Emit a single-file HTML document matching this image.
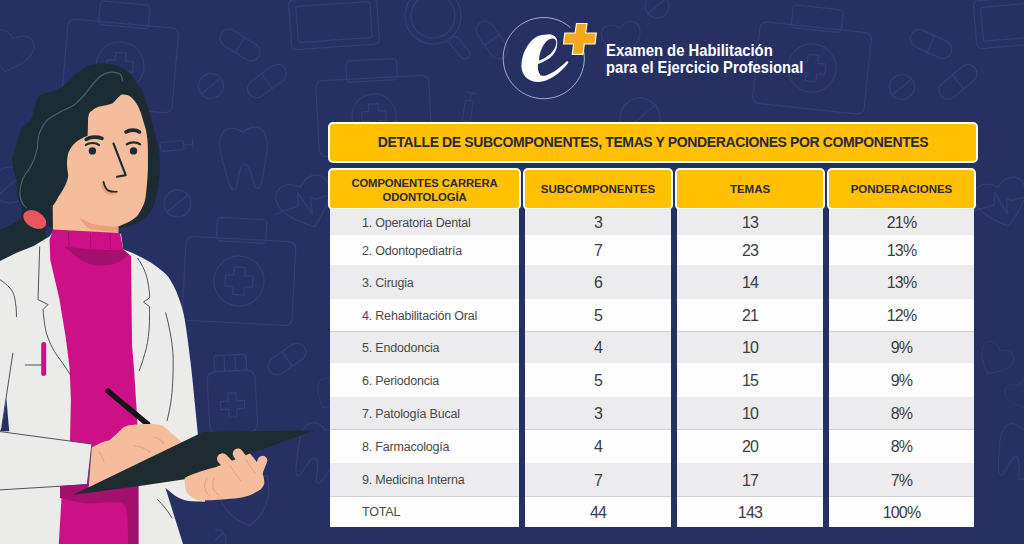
<!DOCTYPE html>
<html><head><meta charset="utf-8">
<style>
*{margin:0;padding:0;box-sizing:border-box}
html,body{width:1024px;height:544px;overflow:hidden;background:#273063;font-family:"Liberation Sans",sans-serif}
.abs{position:absolute}
.ybox{position:absolute;background:#ffc102;border:2px solid #fffdf4;border-radius:5px;color:#2c2a3c;font-weight:bold;text-align:center;white-space:nowrap}
.num{position:absolute;color:#3d3d3d;font-size:16px;text-align:center;white-space:nowrap;letter-spacing:-0.8px}
.lbl{position:absolute;color:#4a4a4a;font-size:12.5px;white-space:nowrap;left:362px;letter-spacing:-0.2px}
.hd{position:absolute;color:#2c2a3c;font-weight:bold;white-space:nowrap;text-align:center}
</style></head><body>
<svg class="abs" style="left:0;top:0" width="1024" height="544" viewBox="0 0 1024 544"><g fill="none" stroke="#343d74" stroke-width="1.25" stroke-linejoin="round" stroke-linecap="round"><g transform="translate(10,52) rotate(15) scale(0.85)"><path d="M0,24 C-10,16 -26,4 -26,-10 C-26,-22 -12,-28 0,-16 C12,-28 26,-22 26,-10 C26,4 10,16 0,24 Z"/></g><g transform="translate(120,66) rotate(5)"><rect x="-24.975" y="-63.3" width="49.95" height="23.8" rx="4"/><rect x="-55.5" y="-42.5" width="111" height="85" rx="7"/><circle r="24"/><path d="M-5.28,-13.200000000000001 H5.28 V-5.28 H13.200000000000001 V5.28 H5.28 V13.200000000000001 H-5.28 V5.28 H-13.200000000000001 V-5.28 H-5.28 Z"/></g><g transform="translate(240,45) rotate(32)"><rect x="-22.0" y="-9.0" width="44" height="18" rx="9.0"/><line x1="0" y1="-9.0" x2="0" y2="9.0"/></g><g transform="translate(267,81) rotate(-36)"><rect x="-22.0" y="-9.0" width="44" height="18" rx="9.0"/><line x1="0" y1="-9.0" x2="0" y2="9.0"/></g><g transform="translate(211,86) rotate(-40)"><circle r="12.5"/><line x1="-12.5" y1="0" x2="12.5" y2="0"/></g><g transform="translate(334,22) rotate(-4)"><rect x="-44.0" y="-25.0" width="88" height="50" rx="5"/><rect x="-37.0" y="-18.0" width="74" height="36" rx="2"/></g><g transform="translate(433,16) rotate(-40)"><circle r="28"/><circle r="22"/><rect x="-5" y="28" width="10" height="26.599999999999998" rx="5"/></g><g transform="translate(374,116) rotate(-3)"><rect x="-25.425" y="-56.28" width="50.85" height="21.28" rx="4"/><rect x="-56.5" y="-38.0" width="113" height="76" rx="7"/><circle r="22"/><path d="M-4.84,-12.100000000000001 H4.84 V-4.84 H12.100000000000001 V4.84 H4.84 V12.100000000000001 H-4.84 V4.84 H-12.100000000000001 V-4.84 H-4.84 Z"/></g><g transform="translate(468,110) rotate(-80) scale(0.8)"><rect x="-14" y="-5" width="26" height="10" rx="2"/><line x1="12" y1="0" x2="22" y2="0"/><line x1="22" y1="-7" x2="22" y2="7"/><line x1="-14" y1="0" x2="-22" y2="0"/></g><g transform="translate(492,40) rotate(55)"><rect x="-21.0" y="-9.0" width="42" height="18" rx="9.0"/><line x1="0" y1="-9.0" x2="0" y2="9.0"/></g><g transform="translate(657,6) rotate(-40)"><circle r="12"/><line x1="-12" y1="0" x2="12" y2="0"/></g><g transform="translate(622,40) rotate(-10) scale(0.75)"><path d="M0,24 C-10,16 -26,4 -26,-10 C-26,-22 -12,-28 0,-16 C12,-28 26,-22 26,-10 C26,4 10,16 0,24 Z"/></g><g transform="translate(812,68) rotate(6)"><rect x="-25.2" y="-60.96" width="50.4" height="22.96" rx="4"/><rect x="-56.0" y="-41.0" width="112" height="82" rx="7"/><circle r="24"/><path d="M-5.28,-13.200000000000001 H5.28 V-5.28 H13.200000000000001 V5.28 H5.28 V13.200000000000001 H-5.28 V5.28 H-13.200000000000001 V-5.28 H-5.28 Z"/></g><g transform="translate(931,44) rotate(25)"><rect x="-22.0" y="-9.0" width="44" height="18" rx="9.0"/><line x1="0" y1="-9.0" x2="0" y2="9.0"/></g><g transform="translate(958,82) rotate(-40)"><rect x="-22.0" y="-9.0" width="44" height="18" rx="9.0"/><line x1="0" y1="-9.0" x2="0" y2="9.0"/></g><g transform="translate(902,87) rotate(-40)"><circle r="12.5"/><line x1="-12.5" y1="0" x2="12.5" y2="0"/></g><g transform="translate(1010,22) rotate(-5)"><rect x="-35.0" y="-24.0" width="70" height="48" rx="5"/><rect x="-28.0" y="-17.0" width="56" height="34" rx="2"/></g><g transform="translate(640,118) rotate(-40)"><circle r="20"/><line x1="-20" y1="0" x2="20" y2="0"/></g><g transform="translate(244,156) rotate(-3) scale(1.05)"><path d="M-20,-22 C-14,-30 -6,-27 0,-23 C6,-27 14,-30 20,-22 C26,-12 20,5 17,20 C15,30 12,34 9,30 C6,20 5,8 0,8 C-5,8 -6,20 -9,30 C-12,34 -15,30 -17,20 C-20,5 -26,-12 -20,-22 Z"/></g><g transform="translate(173,146) rotate(-5) scale(0.9)"><rect x="-14" y="-5" width="26" height="10" rx="2"/><line x1="12" y1="0" x2="22" y2="0"/><line x1="22" y1="-7" x2="22" y2="7"/><line x1="-14" y1="0" x2="-22" y2="0"/></g><g transform="translate(177.5,203.5) rotate(-40)"><circle r="13.5"/><line x1="-13.5" y1="0" x2="13.5" y2="0"/></g><g transform="translate(306,203) rotate(-20) scale(1.05)"><path d="M0,24 C-10,16 -26,4 -26,-10 C-26,-22 -12,-28 0,-16 C12,-28 26,-22 26,-10 C26,4 10,16 0,24 Z"/><path d="M-32,0 H-8 L-4,-12 L2,12 L6,-4 L10,0 H30"/></g><g transform="translate(239,281) rotate(3)"><rect x="-24.75" y="-62.52000000000001" width="49.5" height="23.520000000000003" rx="4"/><rect x="-55.0" y="-42.0" width="110" height="84" rx="7"/><circle r="25"/><path d="M-5.5,-13.750000000000002 H5.5 V-5.5 H13.750000000000002 V5.5 H5.5 V13.750000000000002 H-5.5 V5.5 H-13.750000000000002 V-5.5 H-5.5 Z"/></g><g transform="translate(232,395) rotate(-3) scale(1.0)"><rect x="-16" y="-40" width="32" height="16" rx="3"/><line x1="-6" y1="-40" x2="-6" y2="-24"/><line x1="5" y1="-40" x2="5" y2="-24"/><rect x="-24" y="-24" width="48" height="62" rx="8"/><path d="M-4,-2 H4 V6 H12 V14 H4 V22 H-4 V14 H-12 V6 H-4 Z"/></g><g transform="translate(287,359) rotate(-35)"><rect x="-21.0" y="-9.0" width="42" height="18" rx="9.0"/><line x1="0" y1="-9.0" x2="0" y2="9.0"/></g><g transform="translate(245,498) rotate(-10) scale(1.0)"><path d="M0,-26 C8,-20 18,-18 26,-18 C26,6 16,20 0,28 C-16,20 -26,6 -26,-18 C-18,-18 -8,-20 0,-26 Z"/></g><g transform="translate(318,451) rotate(20) scale(0.95)"><path d="M-20,-22 C-14,-30 -6,-27 0,-23 C6,-27 14,-30 20,-22 C26,-12 20,5 17,20 C15,30 12,34 9,30 C6,20 5,8 0,8 C-5,8 -6,20 -9,30 C-12,34 -15,30 -17,20 C-20,5 -26,-12 -20,-22 Z"/></g><g transform="translate(330,395) rotate(30) scale(0.6)"><path d="M0,24 C-10,16 -26,4 -26,-10 C-26,-22 -12,-28 0,-16 C12,-28 26,-22 26,-10 C26,4 10,16 0,24 Z"/></g><g transform="translate(215,540) rotate(-40)"><circle r="11"/><line x1="-11" y1="0" x2="11" y2="0"/></g><g transform="translate(1002,203) rotate(-15) scale(1.0)"><path d="M0,24 C-10,16 -26,4 -26,-10 C-26,-22 -12,-28 0,-16 C12,-28 26,-22 26,-10 C26,4 10,16 0,24 Z"/><path d="M-32,0 H-8 L-4,-12 L2,12 L6,-4 L10,0 H30"/></g><g transform="translate(995,360) rotate(30) scale(0.65)"><path d="M0,24 C-10,16 -26,4 -26,-10 C-26,-22 -12,-28 0,-16 C12,-28 26,-22 26,-10 C26,4 10,16 0,24 Z"/></g><g transform="translate(1022,395) rotate(-20) scale(0.6)"><path d="M0,24 C-10,16 -26,4 -26,-10 C-26,-22 -12,-28 0,-16 C12,-28 26,-22 26,-10 C26,4 10,16 0,24 Z"/></g><g transform="translate(1018,450) rotate(15) scale(0.9)"><path d="M-20,-22 C-14,-30 -6,-27 0,-23 C6,-27 14,-30 20,-22 C26,-12 20,5 17,20 C15,30 12,34 9,30 C6,20 5,8 0,8 C-5,8 -6,20 -9,30 C-12,34 -15,30 -17,20 C-20,5 -26,-12 -20,-22 Z"/></g><g transform="translate(10,185) rotate(-40)"><circle r="18"/><line x1="-18" y1="0" x2="18" y2="0"/></g></g></svg>
<svg class="abs" style="left:0;top:0" width="1024" height="544" viewBox="0 0 1024 544">
<!-- hair back (incl ponytail) -->
<path fill="#1c2c34" d="M96,63.8 C105,63 118,64 125.6,69.7 C131,74 134,78 135.9,81.5 C140,87 142,90 143.2,93.2 C146,100 147,104 147.6,106.5 C150,115 152.5,123 154.3,130 C156,137 157.5,143 158.8,149.3 C159.8,155 160.2,161 160.1,166 C160,172 159.6,177 158.8,181.5 C158,188 157,195 155.6,200 C154.5,204 153,207 152,209 C150,213 147.5,216 145.3,218 C142,221 138.5,222.5 135.4,223.5 C131,225.5 127,227 124.3,227.5 L118.8,228 L60,234 L53,231.3 C45,240 40,243 33.1,246.2 L16.6,252.8 L0,261 L0,229.7 L11.6,224.7 L21.5,218 L21.5,208.1 L17.4,196.6 L16.6,180 L13.2,170 L12.1,158.7 L16.5,143.2 L22,127.8 C28,122 31,120 33.1,116.8 L35.3,102.4 C38,97 40,95 44.1,93.6 L57.4,90.3 C65,85 70,80 72.8,77 C80,70 86,66 96,63.8 Z"/>
<!-- face + neck -->
<path fill="#f5bd9b" d="M88,120 C88.5,114 89.5,111.5 91.8,110.9 C96,107 100,106 103.5,105.7 C108,105 110,104 112.4,103.5 C116,100 119,96 121.2,94.7 C125,94 129,95 131.5,97.6 C135,101 137,104 138.8,108 C141,112 143,120 146,130 C147.3,137 147.9,143 147.9,149.3 C148,156 148,162 147.9,168.6 C147.7,176 147.2,182 146.6,188 C146,194 145.5,199 144.2,203.2 C142,208 140,212 137.6,215.4 C134,219 130,221.5 126.5,223.1 C123,224.5 120.5,225.8 118.3,226.4 L118.3,236 L53,236 L52.7,206 C55,203 57,200 58.2,197 C61,193 63,190 64.9,186 C67,182 68,178 68.2,175 C67.5,170 67,167 67,164 C67,160 67.5,156 68.2,153 C70,149 72,146 73.7,144.3 C78,140 84,137 87.5,136 C88,130 88,124 88,120 Z"/>
<!-- chin shadow -->
<path fill="#eaa17b" d="M79,217.2 C84,220 89,223 93.4,224.2 C102,226 110,226.5 118.3,226.6 L118.3,232 C108,231 97,230 89.5,228.9 C85,226 82,222 79,217.2 Z"/>
<!-- hair highlight line -->
<path fill="none" stroke="#41646c" stroke-width="1.2" d="M122.6,81.5 C122,76 120,73.5 118.2,73.4 C114,72 110,72 108,72.6 C103,74 99,77 96.2,80 C92,85 89,89 85.9,93.2 C81,99 78,102 74,105 C69,108 64,110 59.4,112.4 C53,116 49,118 46.2,121.2 C42,127 40,131 38.8,135 C37,143 37.5,147 37.5,147.6 C35,158 32,165 28.7,169.7 C23,176 20,185 19.9,193.2 C20,200 23,205 26.5,208.1"/>
<!-- hair tie -->
<path fill="#273063" d="M44.5,223.5 L53,228.5 L53,237 L46,237 Z"/>
<ellipse cx="34.8" cy="219.5" rx="12.3" ry="8.2" transform="rotate(30 34.8 219.5)" fill="#e9565e"/>
<!-- eyes -->
<path fill="none" stroke="#1c2c34" stroke-width="3.6" stroke-linecap="round" d="M86.2,139.4 C90,136.8 97,136.3 102,138.4 M126,131.9 C129.5,129.6 136,129.5 139.5,131.9"/>
<path fill="none" stroke="#1c2c34" stroke-width="2.2" stroke-linecap="round" d="M85.8,145 C89,142.3 96,142.3 99,145 M126.8,144.3 C130,141.6 137,141.6 140.2,144.3"/>
<circle cx="92.4" cy="150.9" r="3.7" fill="#1c2c34"/>
<circle cx="133.5" cy="150.9" r="3.7" fill="#1c2c34"/>
<!-- nose -->
<path fill="none" stroke="#1c2c34" stroke-width="2.1" stroke-linecap="round" stroke-linejoin="round" d="M113.5,143.5 L125.7,175.1 L117,176.8"/>
<!-- lip -->
<path fill="#efa07b" d="M101,184 C101.5,190 105.5,194.5 111.5,195 C115,195 117.5,194 118,192 L116.7,191.2 C111,191.2 108,190 106,188 C104.5,186 104,184 103.5,181.8 Z"/>
<path fill="none" stroke="#1c2c34" stroke-width="1.7" stroke-linecap="round" d="M103.5,181.8 C104.5,186 106,189.5 108.5,190.6 C111,191.7 114,191.8 116.7,191.7"/>
<!-- coat base -->
<path fill="#ebebea" d="M0,261 L16.6,252.8 L33.1,246.2 L49.7,236.3 L53,231.3 L121,233.8 L123.2,249.3 C130,252 135,254 138.7,256 C145,259 150,262 154,264.7 C160,269 164,272 167.4,275.8 C171,281 174,286 176.2,291.2 C179,298 181.5,305 183.5,313.3 C186,325 188.5,345 190.5,362 C192.5,378 194,395 195,405 C196.5,420 197.5,430 198.5,440 L200,544 L0,544 Z"/>
<!-- navy wedge left -->
<path fill="#273063" d="M6.4,398.8 L9.2,431.3 L0,431.3 L1.8,426.4 Z"/>
<!-- magenta shirt -->
<path fill="#cd1088" d="M53,229.6 L120,232.9 L123.2,249.3 L131,256 L132,345 L134,368.7 L137.4,422.6 L138.6,544 L58.8,544 L62,490 L70,440 L70.9,400 L69.6,368 L65.7,337.2 L59.3,298.6 L50.3,260 L49.6,240 Z"/>
<!-- collar shadow -->
<path fill="#a5106e" d="M64,246 C80,249 100,250.5 123,250 L128.7,254.7 C122,262 112,266 99.3,265.7 C85,265 74,256 64,246 Z"/>
<!-- collar lines -->
<path fill="none" stroke="#9a0f66" stroke-width="1" d="M68.4,232 L69,247 M90.4,234 L90.8,248 M110,234 L110.4,249"/>
<!-- coat lines -->
<path fill="none" stroke="#3b4350" stroke-width="0.9" d="M0,279.7 C8,285 13,290 14.5,297 C16,305 16.5,310 16.5,317 M39.7,246.6 L38,299.6 L48,304.5 L43,309.5 C44,320 45,328 46.3,332.6 C50,345 55,353 59.6,359 C64,365 68,371 71,375.7 M137.6,258 C143,266 146,273 147.5,280.2 C149,288 149.7,294 149.7,297.8 L143.5,302 L149.4,306.5 C149.6,315 149.5,320 149.4,324 C149,333 148,341 146.5,347.6 C144,357 141.5,365 139,371 M165.6,312.4 C169,325 172,340 173,353.5 C173.5,370 172.8,385 171.5,397.6 C170.5,406 168.5,415 167,421 M12.9,352.9 L1.8,426.4 M24.8,365 L43,365"/>
<!-- pocket pen -->
<rect x="41.2" y="342" width="5" height="34" rx="2.5" fill="#cd1088"/>
<!-- sleeve (our left arm) -->
<path fill="#ebebea" stroke="#3b4350" stroke-width="0.9" d="M-2,431.3 L91.9,444 L87.3,484.6 L-2,490 Z"/>
<!-- dark magenta shadow under clipboard -->
<path fill="#a5106e" d="M60,486 L88,484 L139.4,470 L139.4,544 L128,544 C128,530 128,515 125,505 C120,502 115,502 110,502 C100,502.5 93,503.5 87,503.5 C78,502.5 70,500.5 60,498 Z"/>
<!-- right coat lower part -->
<path fill="#ebebea" d="M138.6,470 L205,455 L205,502 L183,544 L138.6,544 Z"/>
<path fill="#273063" d="M165.4,487.7 C170,492 174,495 177.6,497.2 C182,499.5 186,500.8 191.2,501.3 L215,502 L215,544 L183,544 Z"/>
<path fill="none" stroke="#3b4350" stroke-width="0.9" d="M157.2,499.3 C163,505 168,511 172.2,518.3"/>
<!-- pen -->
<path fill="none" stroke="#121418" stroke-width="5.5" stroke-linecap="round" d="M107.9,391 L147.6,424.1"/>
<!-- right hand (holding pen) -->
<path fill="#f5bd9b" d="M91.8,447.6 C98,444 104,441 109.4,440.3 C115,436 120,430 124,427 C127,425.5 129,425 131.5,424.9 C140,424 148,424 153.5,424.1 C157,424.5 160,425 162.4,425.6 C166,428 169,431 171,433 C175,436 178,438.5 181.5,441.8 L195,445 L88.5,490 Z"/>
<path fill="none" stroke="#e2a27f" stroke-width="1.2" stroke-linecap="round" d="M99,452 C101,455 103,458 104,462 M135,446 C140,446 146,449 150,452 M155,437 C158,438 162,441 164,444"/>
<!-- clipboard -->
<path fill="#1e2b31" d="M73.2,494.7 L203,432 L314.4,430.6 L291.4,438.4 L268.4,447.2 L250,453.6 L200,477 L139.4,485.9 Z"/>
<!-- left hand -->
<path fill="#f5bd9b" d="M184.7,478 C190,475 200,471 216,467 L250,453.6 C255,459 259,465 261.5,470 C263.5,475 264.5,480 264.3,483.7 C263,487 261,489.5 259.2,490.2 C256,492 254,493.5 252.7,494 C248,496 243,497.5 238.6,497.9 C232,498.5 228,499 225.7,499.2 C215,500 205,500.5 200,500.5 C195,500 190,497 186.5,492.2 C185,488 184.5,482 184.7,478 Z"/>
<path fill="none" stroke="#f5bd9b" stroke-width="11" stroke-linecap="round" d="M222.5,458.8 L243,480"/>
<path fill="none" stroke="#f5bd9b" stroke-width="10.5" stroke-linecap="round" d="M238,453.8 L257,479"/>
<path fill="none" stroke="#f5bd9b" stroke-width="9.5" stroke-linecap="round" d="M262.5,460.5 L256.5,476"/>
<path fill="none" stroke="#e3a07f" stroke-width="1" stroke-linecap="round" d="M230,466 L241,481 M246,460 L255,473 M207,478 C203,484 204,492 210,496 M214,478 C211,485 213,492 219,495"/>
</svg>

<svg class="abs" style="left:0;top:0" width="1024" height="544" viewBox="0 0 1024 544">
<path d="M570.3 27.4 A40.6 40.6 0 1 0 583.2 48.5" fill="none" stroke="#c4c7e0" stroke-width="1" opacity="0.8"/>
<path fill="#fff" fill-rule="evenodd" d="M547.8,34.4 C553,34 557.5,37 557.2,42 C557.5,49 554.5,55.5 547.5,59.5 C544,61.5 540.5,63 538,64 C537.5,68.5 538.2,73 541,75.5 C545,77.5 557,71 566.5,61.4 C567.5,61 568.8,61.8 568.3,62.8 C560,74 548,82 538.4,82 C528,82 521.5,75 521.4,66 C521.5,54 528,42 536,37 C540,35 544,34.4 547.8,34.4 Z M552.5,38.6 C555.5,38.6 557,41 556,45 C554.5,51 548,57.5 539,60.5 C539.2,54 541.5,47 545.5,42.5 C547.5,40 550,38.6 552.5,38.6 Z"/>
<path d="M576.5 23.5 L587 23.5 L585.6 33 L596.3 33 L595 44 L584.3 44 L583 54.4 L572.3 54.4 L573.6 44 L563.5 44 L564.8 33 L575.1 33 Z" fill="#f6a81d" stroke="#fff6dc" stroke-width="1.2" stroke-linejoin="miter"/>
</svg>
<div class="abs" style="left:606px;top:41.5px;color:#fff;font-weight:bold;font-size:16.5px;line-height:17px;white-space:nowrap;transform-origin:0 0;transform:scaleX(0.9)">Examen de Habilitación</div>
<div class="abs" style="left:606px;top:59px;color:#fff;font-weight:bold;font-size:16.5px;line-height:17px;white-space:nowrap;transform-origin:0 0;transform:scaleX(0.893)">para el Ejercicio Profesional</div>

<div class="ybox" style="left:328px;top:122px;width:650px;height:41px"></div>
<div class="hd" style="left:330px;width:646px;top:134px;font-size:14px;line-height:16px;letter-spacing:-0.38px">DETALLE DE SUBCOMPONENTES, TEMAS Y PONDERACIONES POR COMPONENTES</div>
<div class="ybox" style="left:328px;top:168px;width:193px;height:42px"></div>
<div class="ybox" style="left:523px;top:168px;width:150px;height:42px"></div>
<div class="ybox" style="left:675px;top:168px;width:150px;height:42px"></div>
<div class="ybox" style="left:827px;top:168px;width:149px;height:42px"></div>
<div class="hd" style="left:330px;width:189px;top:175.5px;font-size:11.3px;line-height:14.6px;letter-spacing:-0.1px">COMPONENTES CARRERA<br>ODONTOLOGÍA</div>
<div class="hd" style="left:525px;width:146px;top:182px;font-size:11.5px;line-height:14px">SUBCOMPONENTES</div>
<div class="hd" style="left:677px;width:146px;top:182px;font-size:11.5px;line-height:14px">TEMAS</div>
<div class="hd" style="left:829px;width:145px;top:182px;font-size:11.5px;line-height:14px">PONDERACIONES</div>
<div class="abs" style="left:330px;top:209px;width:189px;height:26px;background:#ececee"></div>
<div class="abs" style="left:525px;top:209px;width:146px;height:26px;background:#ececee"></div>
<div class="abs" style="left:677px;top:209px;width:146px;height:26px;background:#ececee"></div>
<div class="abs" style="left:829px;top:209px;width:145px;height:26px;background:#ececee"></div>
<div class="lbl" style="top:214.8px;line-height:16px">1. Operatoria Dental</div>
<div class="num" style="left:525px;width:146px;top:214.4px;line-height:18px">3</div>
<div class="num" style="left:677px;width:146px;top:214.4px;line-height:18px">13</div>
<div class="num" style="left:829px;width:145px;top:214.4px;line-height:18px">21%</div>
<div class="abs" style="left:330px;top:235px;width:189px;height:30px;background:#fdfdfd"></div>
<div class="abs" style="left:525px;top:235px;width:146px;height:30px;background:#fdfdfd"></div>
<div class="abs" style="left:677px;top:235px;width:146px;height:30px;background:#fdfdfd"></div>
<div class="abs" style="left:829px;top:235px;width:145px;height:30px;background:#fdfdfd"></div>
<div class="lbl" style="top:242.8px;line-height:16px">2. Odontopediatría</div>
<div class="num" style="left:525px;width:146px;top:242.4px;line-height:18px">7</div>
<div class="num" style="left:677px;width:146px;top:242.4px;line-height:18px">23</div>
<div class="num" style="left:829px;width:145px;top:242.4px;line-height:18px">13%</div>
<div class="abs" style="left:330px;top:265px;width:189px;height:34px;background:#ececee"></div>
<div class="abs" style="left:525px;top:265px;width:146px;height:34px;background:#ececee"></div>
<div class="abs" style="left:677px;top:265px;width:146px;height:34px;background:#ececee"></div>
<div class="abs" style="left:829px;top:265px;width:145px;height:34px;background:#ececee"></div>
<div class="lbl" style="top:274.8px;line-height:16px">3. Cirugia</div>
<div class="num" style="left:525px;width:146px;top:274.4px;line-height:18px">6</div>
<div class="num" style="left:677px;width:146px;top:274.4px;line-height:18px">14</div>
<div class="num" style="left:829px;width:145px;top:274.4px;line-height:18px">13%</div>
<div class="abs" style="left:330px;top:299px;width:189px;height:32px;background:#fdfdfd"></div>
<div class="abs" style="left:525px;top:299px;width:146px;height:32px;background:#fdfdfd"></div>
<div class="abs" style="left:677px;top:299px;width:146px;height:32px;background:#fdfdfd"></div>
<div class="abs" style="left:829px;top:299px;width:145px;height:32px;background:#fdfdfd"></div>
<div class="lbl" style="top:307.8px;line-height:16px">4. Rehabilitación Oral</div>
<div class="num" style="left:525px;width:146px;top:307.4px;line-height:18px">5</div>
<div class="num" style="left:677px;width:146px;top:307.4px;line-height:18px">21</div>
<div class="num" style="left:829px;width:145px;top:307.4px;line-height:18px">12%</div>
<div class="abs" style="left:330px;top:331px;width:189px;height:32px;background:#ececee"></div>
<div class="abs" style="left:525px;top:331px;width:146px;height:32px;background:#ececee"></div>
<div class="abs" style="left:677px;top:331px;width:146px;height:32px;background:#ececee"></div>
<div class="abs" style="left:829px;top:331px;width:145px;height:32px;background:#ececee"></div>
<div class="lbl" style="top:339.8px;line-height:16px">5. Endodoncia</div>
<div class="num" style="left:525px;width:146px;top:339.4px;line-height:18px">4</div>
<div class="num" style="left:677px;width:146px;top:339.4px;line-height:18px">10</div>
<div class="num" style="left:829px;width:145px;top:339.4px;line-height:18px">9%</div>
<div class="abs" style="left:330px;top:363px;width:189px;height:34px;background:#fdfdfd"></div>
<div class="abs" style="left:525px;top:363px;width:146px;height:34px;background:#fdfdfd"></div>
<div class="abs" style="left:677px;top:363px;width:146px;height:34px;background:#fdfdfd"></div>
<div class="abs" style="left:829px;top:363px;width:145px;height:34px;background:#fdfdfd"></div>
<div class="lbl" style="top:372.8px;line-height:16px">6. Periodoncia</div>
<div class="num" style="left:525px;width:146px;top:372.4px;line-height:18px">5</div>
<div class="num" style="left:677px;width:146px;top:372.4px;line-height:18px">15</div>
<div class="num" style="left:829px;width:145px;top:372.4px;line-height:18px">9%</div>
<div class="abs" style="left:330px;top:397px;width:189px;height:32px;background:#ececee"></div>
<div class="abs" style="left:525px;top:397px;width:146px;height:32px;background:#ececee"></div>
<div class="abs" style="left:677px;top:397px;width:146px;height:32px;background:#ececee"></div>
<div class="abs" style="left:829px;top:397px;width:145px;height:32px;background:#ececee"></div>
<div class="lbl" style="top:405.8px;line-height:16px">7. Patología Bucal</div>
<div class="num" style="left:525px;width:146px;top:405.4px;line-height:18px">3</div>
<div class="num" style="left:677px;width:146px;top:405.4px;line-height:18px">10</div>
<div class="num" style="left:829px;width:145px;top:405.4px;line-height:18px">8%</div>
<div class="abs" style="left:330px;top:429px;width:189px;height:34px;background:#fdfdfd"></div>
<div class="abs" style="left:525px;top:429px;width:146px;height:34px;background:#fdfdfd"></div>
<div class="abs" style="left:677px;top:429px;width:146px;height:34px;background:#fdfdfd"></div>
<div class="abs" style="left:829px;top:429px;width:145px;height:34px;background:#fdfdfd"></div>
<div class="lbl" style="top:438.8px;line-height:16px">8. Farmacología</div>
<div class="num" style="left:525px;width:146px;top:438.4px;line-height:18px">4</div>
<div class="num" style="left:677px;width:146px;top:438.4px;line-height:18px">20</div>
<div class="num" style="left:829px;width:145px;top:438.4px;line-height:18px">8%</div>
<div class="abs" style="left:330px;top:463px;width:189px;height:33px;background:#ececee"></div>
<div class="abs" style="left:525px;top:463px;width:146px;height:33px;background:#ececee"></div>
<div class="abs" style="left:677px;top:463px;width:146px;height:33px;background:#ececee"></div>
<div class="abs" style="left:829px;top:463px;width:145px;height:33px;background:#ececee"></div>
<div class="lbl" style="top:472.3px;line-height:16px">9. Medicina Interna</div>
<div class="num" style="left:525px;width:146px;top:471.9px;line-height:18px">7</div>
<div class="num" style="left:677px;width:146px;top:471.9px;line-height:18px">17</div>
<div class="num" style="left:829px;width:145px;top:471.9px;line-height:18px">7%</div>
<div class="abs" style="left:330px;top:496px;width:189px;height:31px;background:#fdfdfd"></div>
<div class="abs" style="left:525px;top:496px;width:146px;height:31px;background:#fdfdfd"></div>
<div class="abs" style="left:677px;top:496px;width:146px;height:31px;background:#fdfdfd"></div>
<div class="abs" style="left:829px;top:496px;width:145px;height:31px;background:#fdfdfd"></div>
<div class="lbl" style="top:504.3px;line-height:16px">TOTAL</div>
<div class="num" style="left:525px;width:146px;top:503.9px;line-height:18px">44</div>
<div class="num" style="left:677px;width:146px;top:503.9px;line-height:18px">143</div>
<div class="num" style="left:829px;width:145px;top:503.9px;line-height:18px">100%</div>
<div class="abs" style="left:330px;top:330.5px;width:189px;height:1px;background:#d2d3d8"></div>
<div class="abs" style="left:525px;top:330.5px;width:146px;height:1px;background:#d2d3d8"></div>
<div class="abs" style="left:677px;top:330.5px;width:146px;height:1px;background:#d2d3d8"></div>
<div class="abs" style="left:829px;top:330.5px;width:145px;height:1px;background:#d2d3d8"></div>
<div class="abs" style="left:330px;top:428.5px;width:189px;height:1px;background:#d2d3d8"></div>
<div class="abs" style="left:525px;top:428.5px;width:146px;height:1px;background:#d2d3d8"></div>
<div class="abs" style="left:677px;top:428.5px;width:146px;height:1px;background:#d2d3d8"></div>
<div class="abs" style="left:829px;top:428.5px;width:145px;height:1px;background:#d2d3d8"></div>
<div class="abs" style="left:330px;top:495.5px;width:189px;height:1px;background:#d2d3d8"></div>
<div class="abs" style="left:525px;top:495.5px;width:146px;height:1px;background:#d2d3d8"></div>
<div class="abs" style="left:677px;top:495.5px;width:146px;height:1px;background:#d2d3d8"></div>
<div class="abs" style="left:829px;top:495.5px;width:145px;height:1px;background:#d2d3d8"></div>
</body></html>
